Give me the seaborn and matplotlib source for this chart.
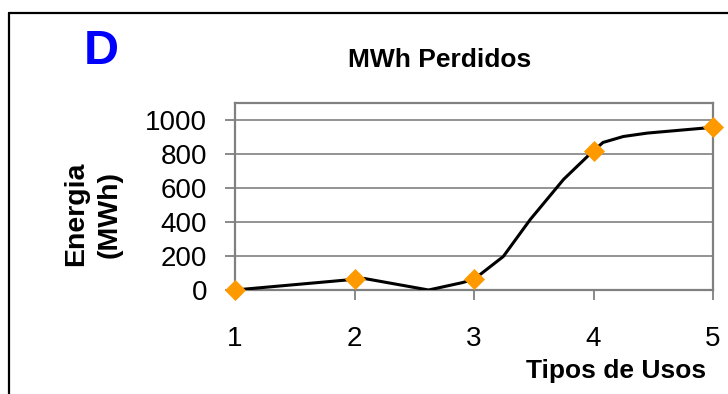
"""
MWh Perdidos chart (panel D): energy lost by use type.
Saves out.png at 728x394.
"""
import numpy as np
import pandas as pd
import matplotlib
matplotlib.use("Agg")
import matplotlib.pyplot as plt
from matplotlib.lines import Line2D
import seaborn as sns

# marker points (use type vs MWh)
usos = [1, 2, 3, 4, 5]
energia = [0, 63, 63, 820, 957]

# smoothed curve vertices as drawn in the original
curva_x = [1, 2, 2.08, 2.62, 2.9, 3, 3.245, 3.47, 3.75, 4, 4.08, 4.25, 4.45, 5]
curva_y = [0, 63, 68, 0, 43, 63, 197, 414, 651, 820, 868, 903, 923, 957]

y_ticks = [0, 200, 400, 600, 800, 1000]

GRAY = "#808080"
ORANGE = "#FF9900"


def main():
    sns.set_style("white")
    plt.rcParams["font.family"] = ["Liberation Sans", "DejaVu Sans"]
    plt.rcParams["text.color"] = "black"
    plt.rcParams["xtick.labelcolor"] = "black"
    plt.rcParams["ytick.labelcolor"] = "black"

    fig = plt.figure(figsize=(7.28, 3.94), dpi=100)
    ax = fig.add_axes([235 / 728, 1 - 290 / 394, (713 - 235) / 728, (290 - 103) / 394])

    curva = pd.DataFrame({"x": curva_x, "y": curva_y})
    puntos = pd.DataFrame({"x": usos, "y": energia})

    sns.lineplot(data=curva, x="x", y="y", color="black", linewidth=2.2,
                 estimator=None, sort=False, ax=ax, zorder=3)
    sns.scatterplot(data=puntos, x="x", y="y", marker="D", color=ORANGE,
                    s=115, linewidth=0, ax=ax, zorder=4, clip_on=False)

    ax.set_xlim(1, 5)
    ax.set_ylim(0, 1100)
    ax.set_xticks(usos)
    ax.set_yticks(y_ticks)
    ax.set_xlabel("")
    ax.set_ylabel("")
    for yv in y_ticks[1:]:
        ax.axhline(yv, color=GRAY, linewidth=1.2, zorder=1)

    for side in ["left", "top", "right", "bottom"]:
        ax.spines[side].set_visible(True)
        ax.spines[side].set_color(GRAY)
        ax.spines[side].set_linewidth(1.6)

    ax.tick_params(axis="y", direction="out", length=7, width=1.3, color=GRAY,
                   pad=13, labelsize=20, left=True, labelcolor="black")
    ax.tick_params(axis="x", direction="out", length=7, width=1.3, color=GRAY,
                   pad=19, labelsize=20, bottom=True, labelcolor="black")

    fig.text(440 / 728, 1 - 60 / 394, "MWh Perdidos", ha="center", va="center",
             fontsize=19, fontweight="bold", color="black")
    fig.text(101 / 728, 1 - 51 / 394, "D", ha="center", va="center",
             fontsize=35, fontweight="bold", color="#0000FF")
    fig.text(616 / 728, 1 - 371 / 394, "Tipos de Usos", ha="center", va="center",
             fontsize=19, fontweight="bold", color="black")
    fig.text(93 / 728, 1 - 214 / 394, "Energia\n(MWh)", ha="center", va="center",
             rotation=90, fontsize=20.5, fontweight="bold", linespacing=1.4,
             multialignment="center", color="black")

    # outer chart frame (only left and top edges are visible)
    fig.add_artist(Line2D([9 / 728, 9 / 728], [0, 1 - 12.5 / 394],
                          transform=fig.transFigure, color="black", linewidth=1.6))
    fig.add_artist(Line2D([9 / 728, 1], [1 - 12.5 / 394, 1 - 12.5 / 394],
                          transform=fig.transFigure, color="black", linewidth=1.6))

    fig.savefig("out.png", dpi=100)


if __name__ == "__main__":
    main()
